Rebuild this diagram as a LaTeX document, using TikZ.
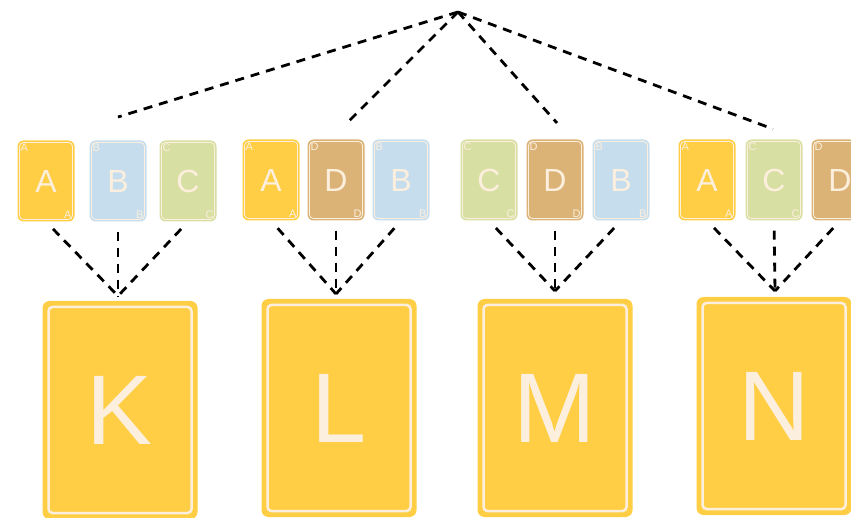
\documentclass[tikz,border=0pt]{standalone}
\usepackage{fontspec}
\setmainfont{Liberation Sans}

\definecolor{cardyellow}{HTML}{FFCE45}
\definecolor{cardblue}{HTML}{C6DDEE}
\definecolor{cardgreen}{HTML}{D8DFA3}
\definecolor{cardtan}{HTML}{DCB377}
\definecolor{cardtext}{HTML}{FCEFDD}

\newcommand{\cornerfont}{\fontsize{11}{11}\selectfont}
\newcommand{\cardfont}{\fontsize{32}{32}\selectfont}
\newcommand{\bigfont}{\fontsize{99}{99}\selectfont}

\tikzset{
  corner/.style={text=cardtext, font=\cornerfont, inner sep=3pt},
  smallcard/.style={fill=#1, rounded corners=6pt, minimum width=57pt,
    minimum height=81pt, inner sep=0pt, text=cardtext, font=\cardfont,
    path picture={\draw[cardtext, line width=.8pt, rounded corners=4pt]
      ([shift={(2pt,-2pt)}]path picture bounding box.north west) rectangle
      ([shift={(-2pt,2pt)}]path picture bounding box.south east);}},
  bigcard/.style={fill=cardyellow, rounded corners=7pt, minimum width=155pt,
    minimum height=218pt, inner sep=0pt, text=cardtext, font=\bigfont,
    path picture={\draw[cardtext, line width=2.5pt, rounded corners=4pt]
      ([shift={(6pt,-6pt)}]path picture bounding box.north west) rectangle
      ([shift={(-6pt,6pt)}]path picture bounding box.south east);}},
  link/.style={black, line width=2.8pt, dash pattern=on 9pt off 7pt}
}

\begin{document}
\begin{tikzpicture}[x=1pt, y=-1pt]
\useasboundingbox (0,0) rectangle (851,518);

% top of the tree
\coordinate (apex) at (458,12);
\coordinate (t1) at (118,117);
\coordinate (t2) at (346,124);
\coordinate (t3) at (557,123);
\coordinate (t4) at (773,129);

\draw[link] (apex) -- (t1);
\draw[link] (apex) -- (t2);
\draw[link] (apex) -- (t3);
\draw[link] (apex) -- (t4);

% small cards
\node[smallcard=cardyellow] (g1a) at (46,181) {A};
\node[smallcard=cardblue] (g1b) at (118,181) {B};
\node[smallcard=cardgreen] (g1c) at (188,181) {C};

\node[smallcard=cardyellow] (g2a) at (271,180) {A};
\node[smallcard=cardtan] (g2d) at (336,180) {D};
\node[smallcard=cardblue] (g2b) at (401,180) {B};

\node[smallcard=cardgreen] (g3c) at (489,180) {C};
\node[smallcard=cardtan] (g3d) at (555,180) {D};
\node[smallcard=cardblue] (g3b) at (621,180) {B};

\node[smallcard=cardyellow] (g4a) at (707,180) {A};
\node[smallcard=cardgreen] (g4c) at (774,180) {C};
\node[smallcard=cardtan] (g4d) at (840,180) {D};

% corner letters
\foreach \card/\letter in {g1a/A,g1b/B,g1c/C,g2a/A,g2d/D,g2b/B,
                           g3c/C,g3d/D,g3b/B,g4a/A,g4c/C,g4d/D}{
  \node[corner, anchor=north west] (\card-tl) at (\card.north west) {\letter};
  \node[corner, anchor=south east] (\card-br) at (\card.south east) {\letter};
}

% big cards
\node[bigcard] (k) at (120,410) {K};
\node[bigcard] (l) at (339,408) {L};
\node[bigcard] (m) at (555,408) {M};
\node[bigcard] (n) at (774,406) {N};

% joins
\coordinate (j1) at (118,296);
\coordinate (j2) at (336,294);
\coordinate (j3) at (555,291);
\coordinate (j4) at (775,291);

\draw[link, shorten <=10pt] (g1a.south) -- (j1);
\draw[link, shorten <=10pt] (g1b.south) -- (j1);
\draw[link, shorten <=10pt] (g1c.south) -- (j1);

\draw[link, shorten <=10pt] (g2a.south) -- (j2);
\draw[link, shorten <=10pt] (g2d.south) -- (j2);
\draw[link, shorten <=10pt] (g2b.south) -- (j2);

\draw[link, shorten <=10pt] (g3c.south) -- (j3);
\draw[link, shorten <=10pt] (g3d.south) -- (j3);
\draw[link, shorten <=10pt] (g3b.south) -- (j3);

\draw[link, shorten <=10pt] (g4a.south) -- (j4);
\draw[link, shorten <=10pt] (g4c.south) -- (j4);
\draw[link, shorten <=10pt] (g4d.south) -- (j4);

\end{tikzpicture}
\end{document}
